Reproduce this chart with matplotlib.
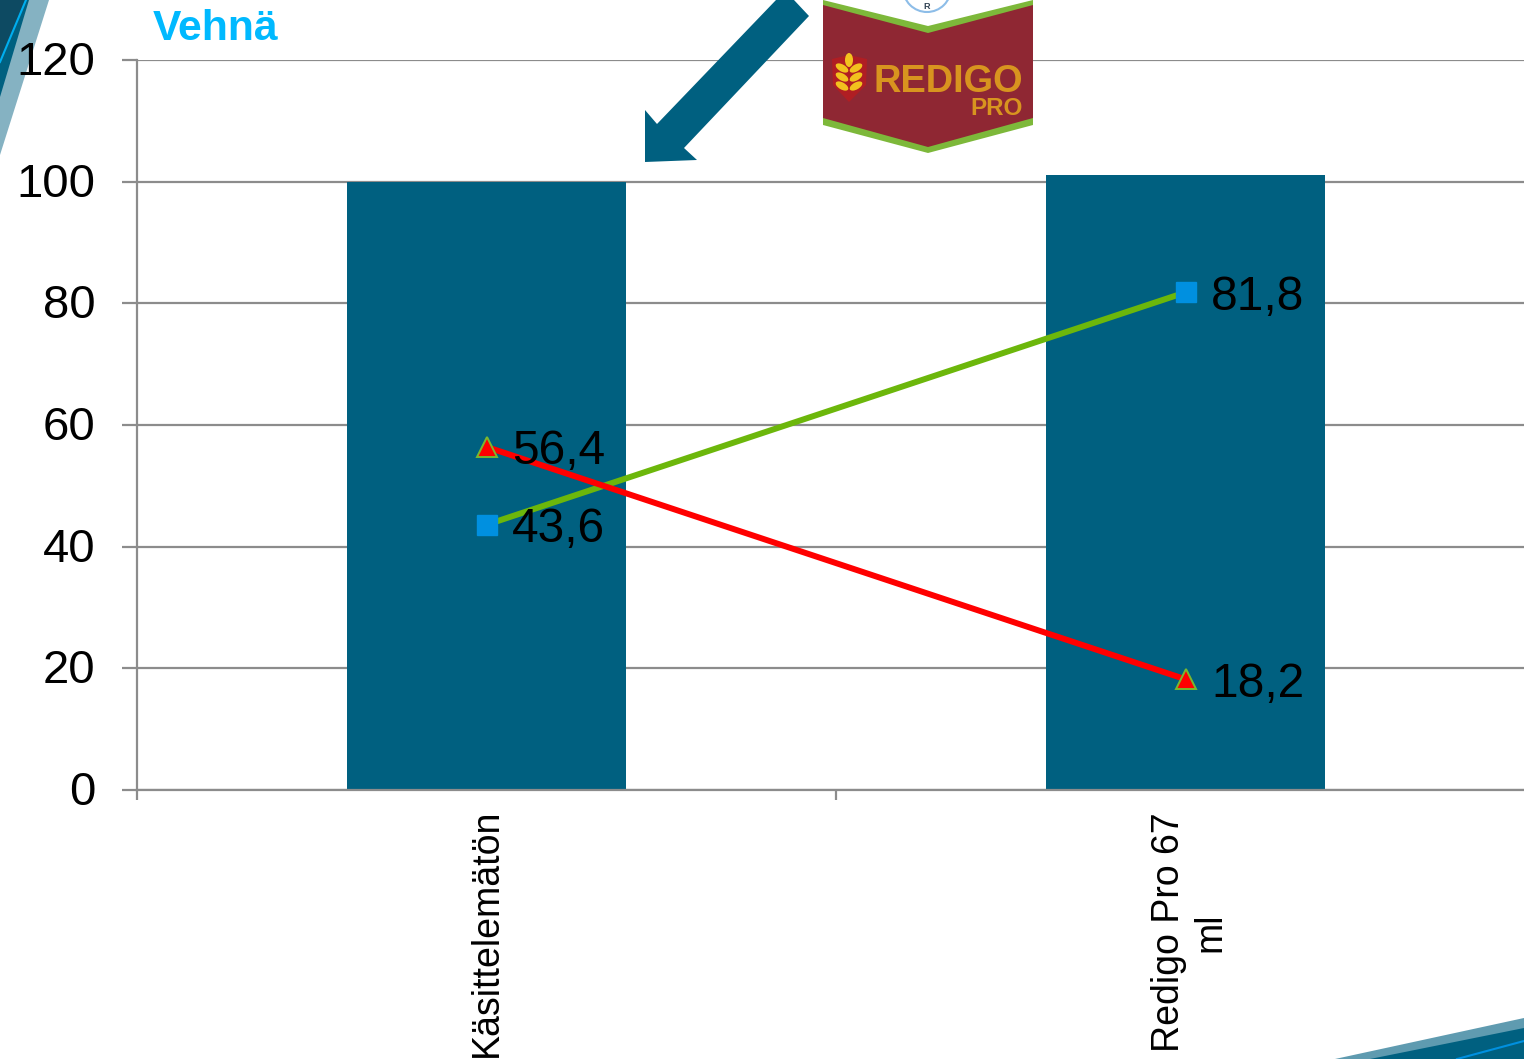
import matplotlib
matplotlib.use("Agg")
import matplotlib.pyplot as plt
from matplotlib.patches import Polygon, Ellipse, Circle
from matplotlib.transforms import ScaledTranslation

plt.rcParams["font.family"] = ["Liberation Sans", "DejaVu Sans"]

categories = ["Käsittelemätön", "Redigo Pro 67\nml"]
bar_values = [100, 101.1]
green_values = [43.6, 81.8]
red_values = [56.4, 18.2]
green_labels = ["43,6", "81,8"]
red_labels = ["56,4", "18,2"]
y_ticks = [0, 20, 40, 60, 80, 100, 120]

W, H = 1524, 1059
fig = plt.figure(figsize=(W / 100, H / 100), dpi=100, facecolor="white")


def overlay(z):
    # axes in image pixels, for the slide decoration around the chart
    a = fig.add_axes([0, 0, 1, 1], zorder=z)
    a.set_xlim(0, W)
    a.set_ylim(H, 0)
    a.axis("off")
    return a


# slide corners, behind the chart
back = overlay(0)
back.add_patch(Polygon([(0, 0), (49, 0), (0, 155)], fc="#85B2C2", ec="none"))
back.add_patch(Polygon([(0, 0), (29, 0), (0, 97)], fc="#006080", ec="none"))
back.add_patch(Polygon([(0, 0), (25, 0), (0, 62)], fc="#0D4A62", ec="none"))
back.plot([26, 0], [0, 62], color="#00AEEF", lw=1.5)
back.add_patch(Polygon([(1335, 1059), (1524, 1018), (1524, 1059)], fc="#5F9BB0", ec="none"))
back.add_patch(Polygon([(1370, 1059), (1524, 1028), (1524, 1059)], fc="#006080", ec="none"))
back.plot([1457, 1524], [1059, 1041], color="#0090E0", lw=1.5)

# chart
left, right = 137, 1535
top, bottom = 60, 790
ax = fig.add_axes([left / W, 1 - bottom / H, (right - left) / W, (bottom - top) / H], zorder=1)
ax.patch.set_alpha(0)

x = [0, 1]
grid_c = "#8C8C8C"
ax.bar(x, bar_values, width=0.4, color="#006080", zorder=2)
ax.plot(x, green_values, color="#6CB70B", lw=4.3, marker="s", ms=14.5,
        mfc="#0090E0", mec="#0090E0", zorder=3)
ax.plot(x, red_values, color="#FF0000", lw=4.3, marker="^", ms=14,
        mfc="#FF0000", mec="#7AB82E", mew=1.4, zorder=4)

for xi, v, s in zip(x, green_values, green_labels):
    ax.annotate(s, (xi, v), xytext=(18.5, -3.5), textcoords="offset points",
                fontsize=34.5, va="center", ha="left", color="black", zorder=5)
for xi, v, s in zip(x, red_values, red_labels):
    ax.annotate(s, (xi, v), xytext=(18.5, -3.5), textcoords="offset points",
                fontsize=34.5, va="center", ha="left", color="black", zorder=5)

ax.set_xlim(-0.5, 1.5)
ax.set_ylim(0, 120)
ax.set_yticks(y_ticks)
ax.tick_params(axis="y", labelsize=34, length=10.8, width=1.6, color=grid_c, pad=19)
for lab in ax.get_yticklabels():
    lab.set_transform(lab.get_transform() + ScaledTranslation(0, 1.5 / 72, fig.dpi_scale_trans))
ax.grid(axis="y", color=grid_c, lw=1.6, zorder=1)
ax.set_axisbelow(True)

ax.set_xticks([-0.5, 0.5, 1.5])
ax.set_xticklabels([])
ax.tick_params(axis="x", which="major", length=7.5, width=1.6, color=grid_c)
ax.set_xticks(x, minor=True)
ax.set_xticklabels(categories, minor=True, rotation=90, fontsize=27,
                   ha="center", va="top", multialignment="center")
ax.tick_params(axis="x", which="minor", length=0, pad=16)
first, second = ax.get_xticklabels(minor=True)
first.set_transform(first.get_transform() + ScaledTranslation(0, 2.5 / 72, fig.dpi_scale_trans))
second.set_transform(second.get_transform() + ScaledTranslation(3 / 72, 0, fig.dpi_scale_trans))

for side in ["top", "right"]:
    ax.spines[side].set_visible(False)
for side in ["left", "bottom"]:
    ax.spines[side].set_color(grid_c)
    ax.spines[side].set_linewidth(1.6)

# arrow, logo and heading in front
front = overlay(2)
front.text(153, 40, "Vehnä", fontsize=30.7, fontweight="bold", color="#00B9FF",
           ha="left", va="baseline")
front.add_patch(Polygon([(776, 0), (657, 124), (645, 110), (645, 162), (697, 160),
                         (684, 148), (809, 16), (794, 0)], fc="#006080", ec="none"))

front.add_patch(Polygon([(823, 0), (1033, 0), (1033, 125), (928, 153), (823, 125)],
                        fc="white", ec="none"))
front.add_patch(Circle((927, -12), 24, fc="white", ec="#8DBDE8", lw=1.5))
front.text(927, 9, "R", fontsize=6.5, fontweight="bold", color="#334455", ha="center", va="baseline")
front.add_patch(Polygon([(823, 0), (928, 26), (1033, 0), (1033, 125), (928, 153), (823, 125)],
                        fc="#7DB83A", ec="none"))
front.add_patch(Polygon([(823, 5), (928, 33), (1033, 5), (1033, 118), (928, 147), (823, 118)],
                        fc="#8F2733", ec="none"))
front.add_patch(Polygon([(832, 59), (849, 55), (867, 59), (866, 85), (849, 102), (833, 85)],
                        fc="#B01E23", ec="none"))
front.add_patch(Ellipse((849, 60), 8, 14, fc="#F2C21E", ec="none"))
for wy in [68, 77, 86]:
    front.add_patch(Ellipse((842, wy), 14, 7, angle=30, fc="#F2C21E", ec="none"))
    front.add_patch(Ellipse((856, wy), 14, 7, angle=-30, fc="#F2C21E", ec="none"))
front.text(873, 92, "REDIGO", fontsize=27.4, fontweight="bold", color="#D8941F",
           ha="left", va="baseline")
front.text(1023, 115, "PRO", fontsize=17.5, fontweight="bold", color="#D8941F",
           ha="right", va="baseline")

fig.savefig("out.png", dpi=100)
